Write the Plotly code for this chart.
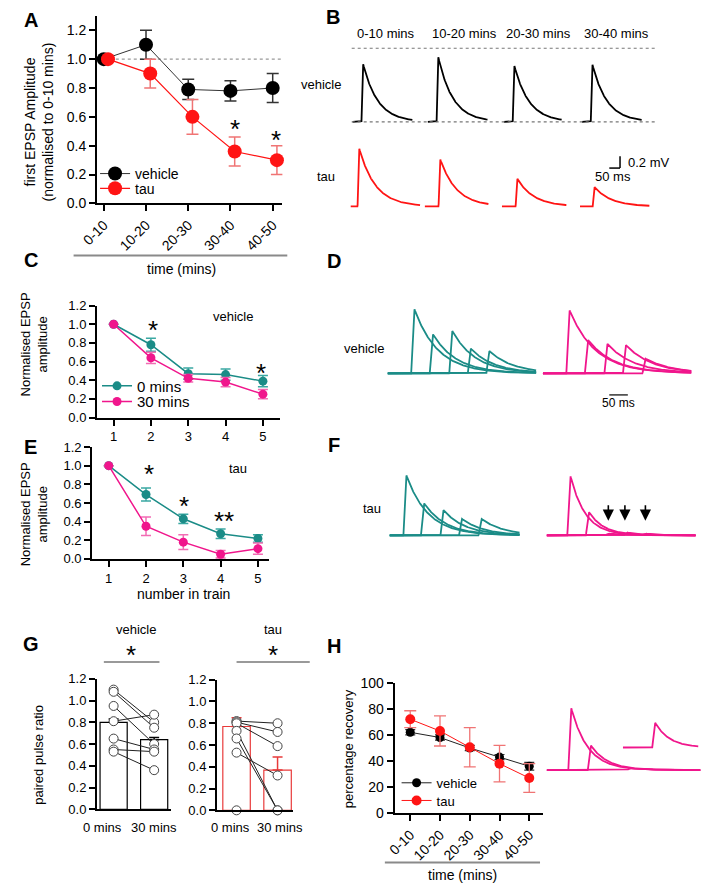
import numpy as np
import plotly.graph_objects as go

W, H = 702, 891
FONT = "Liberation Sans, Arial, Helvetica, sans-serif"
BLACK = "#000000"
RED = "#ff1414"
RED_ERR = "#f07474"
TEAL = "#1b8c87"
TEAL_ERR = "#3aa8a2"
PINK = "#f0168c"
PINK_ERR = "#f26cb4"

# ---------------- data ----------------
time_bins = ["0-10", "10-20", "20-30", "30-40", "40-50"]

# A: first EPSP amplitude (normalised)
a_vehicle = [1.00, 1.10, 0.79, 0.78, 0.80]
a_vehicle_err = [0.0, 0.10, 0.07, 0.07, 0.10]
a_tau = [1.00, 0.90, 0.60, 0.36, 0.30]
a_tau_err = [0.0, 0.10, 0.12, 0.10, 0.10]

# C / E: normalised EPSP amplitude along the train
train_pos = [1, 2, 3, 4, 5]
c_0min = [1.00, 0.78, 0.47, 0.46, 0.39]
c_0min_err = [0.0, 0.07, 0.06, 0.06, 0.06]
c_30min = [1.00, 0.64, 0.42, 0.38, 0.25]
c_30min_err = [0.0, 0.06, 0.04, 0.05, 0.05]

e_0min = [1.00, 0.69, 0.43, 0.27, 0.22]
e_0min_err = [0.0, 0.07, 0.05, 0.05, 0.04]
e_30min = [1.00, 0.35, 0.18, 0.05, 0.11]
e_30min_err = [0.0, 0.10, 0.08, 0.04, 0.06]

# G: paired pulse ratio
g_groups = ["0 mins", "30 mins"]
g_veh_mean = [0.80, 0.64]
g_veh_err = [0.03, 0.02]
g_veh_0 = [1.10, 1.08, 0.95, 0.81, 0.65, 0.55, 0.53]
g_veh_30 = [0.80, 0.75, 0.60, 0.87, 0.55, 0.53, 0.36]
g_tau_mean = [0.77, 0.37]
g_tau_err = [0.08, 0.12]
g_tau_0 = [0.82, 0.81, 0.80, 0.73, 0.66, 0.53]
g_tau_30 = [0.80, 0.72, 0.59, 0.00, 0.00, 0.32]
g_tau_0_unpaired = [0.00]

# H: percentage recovery
h_vehicle = [62, 58, 50, 43, 36]
h_vehicle_err = [2, 2, 2, 2, 3]
h_tau = [72, 63, 50.5, 38, 27]
h_tau_err = [6.5, 11.5, 15, 14, 11]

# Example traces: peak amplitudes (mV)
b_columns = ["0-10 mins", "10-20 mins", "20-30 mins", "30-40 mins"]
b_vehicle_amp = [0.98, 1.10, 0.95, 0.97]
b_tau_amp = [0.98, 0.80, 0.47, 0.33]
d_veh_0_amp = [1.10, 0.67, 0.72, 0.42, 0.38]
d_veh_30_amp = [1.08, 0.57, 0.50, 0.48, 0.25]
f_tau_0_amp = [1.02, 0.55, 0.43, 0.28, 0.28]
f_tau_30_amp = [1.02, 0.40, 0.03, 0.05, 0.03]
h_inset_amp = [1.05, 0.42, 0.03]
h_inset_test_amp = [0.42]

# ---------------- helpers ----------------
def px(x):
    return x / W

def py(y):
    return 1 - y / H

def xdom(a, b):
    return [a / W, b / W]

def ydom(top, bottom):
    return [1 - bottom / H, 1 - top / H]

annotations = []
shapes = []

def text(x, y, s, size=13, bold=False, xanchor="center", angle=0, color=BLACK):
    annotations.append(dict(
        x=px(x), y=py(y), xref="paper", yref="paper",
        text=f"<b>{s}</b>" if bold else s, showarrow=False,
        font=dict(family=FONT, size=size, color=color),
        xanchor=xanchor, yanchor="middle", textangle=angle))

def star(x, y, s):
    annotations.append(dict(
        x=px(x), y=py(y + 6), xref="paper", yref="paper", text=s,
        showarrow=False, font=dict(family=FONT, size=26, color=BLACK),
        xanchor="center", yanchor="middle"))

def hline(x0, x1, y, color=BLACK, width=1.5, dash="solid"):
    shapes.append(dict(type="line", xref="paper", yref="paper",
                       x0=px(x0), x1=px(x1), y0=py(y), y1=py(y),
                       line=dict(color=color, width=width, dash=dash)))

def vline(x, y0, y1, color=BLACK, width=1.5):
    shapes.append(dict(type="line", xref="paper", yref="paper",
                       x0=px(x), x1=px(x), y0=py(y0), y1=py(y1),
                       line=dict(color=color, width=width)))

def errs(e):
    return [v if v > 0 else None for v in e]

def axis_style(**kw):
    d = dict(showline=True, linecolor=BLACK, linewidth=2, ticks="outside",
             ticklen=6, tickwidth=2, tickcolor=BLACK, showgrid=False,
             zeroline=False, tickfont=dict(family=FONT, size=13, color=BLACK),
             fixedrange=True)
    d.update(kw)
    return d

def legend_at(x, y, size):
    return dict(x=px(x), y=py(y), xanchor="left", yanchor="middle",
                bgcolor="rgba(0,0,0,0)", borderwidth=0,
                font=dict(family=FONT, size=size, color=BLACK), tracegroupgap=0)

class Box:
    def __init__(self, x0, x1, top, bottom, sx, sy):
        self.x0, self.x1, self.top, self.bottom = x0, x1, top, bottom
        self.sx, self.sy = sx, sy

    def ms(self, p):
        return (p - self.x0) / self.sx

    def mv(self, p):
        return (self.bottom - p) / self.sy

    def xr(self):
        return [0, (self.x1 - self.x0) / self.sx]

    def yr(self):
        return [0, (self.bottom - self.top) / self.sy]

def epsp(t0, ton, t1, amp, tau, base, rise=8.0, dt=1.0):
    t = np.arange(t0, t1 + dt, dt)
    v = np.zeros_like(t)
    r = (t >= ton) & (t < ton + rise)
    v[r] = amp * (t[r] - ton) / rise
    d = t >= ton + rise
    v[d] = amp * np.exp(-(t[d] - ton - rise) / tau)
    return t, v + base

fig = go.Figure()

def trace_group(box, starts, onsets, ends, amps, tau, base_py, color, xa, ya, width=1.6):
    xs, ys = [], []
    for s, o, e, a in zip(starts, onsets, ends, amps):
        t, v = epsp(box.ms(s), box.ms(o), box.ms(e), a, tau, box.mv(base_py))
        xs += list(t) + [None]
        ys += list(v) + [None]
    fig.add_trace(go.Scatter(x=xs, y=ys, mode="lines", line=dict(color=color, width=width),
                             xaxis=xa, yaxis=ya, showlegend=False, hoverinfo="skip"))

# ---------------- Panel A ----------------
xi = np.arange(len(time_bins))
fig.add_trace(go.Scatter(
    x=xi, y=a_vehicle, mode="lines+markers", name="vehicle",
    marker=dict(color=BLACK, size=14), line=dict(color="#333333", width=1),
    error_y=dict(type="data", array=errs(a_vehicle_err), color="#333333", thickness=1.5, width=6),
    xaxis="x", yaxis="y", legend="legend", cliponaxis=False))
fig.add_trace(go.Scatter(
    x=xi + 0.1, y=a_tau, mode="lines+markers", name="tau",
    marker=dict(color=RED, size=14), line=dict(color=RED, width=1.2),
    error_y=dict(type="data", array=errs(a_tau_err), color=RED_ERR, thickness=1.5, width=6),
    xaxis="x", yaxis="y", legend="legend2", cliponaxis=False))
shapes.append(dict(type="line", xref="x", yref="y", x0=0, x1=4.2, y0=1.0, y1=1.0,
                   line=dict(color="#999999", width=1.2, dash="dot"), layer="below"))

# ---------------- Panel C ----------------
fig.add_trace(go.Scatter(
    x=train_pos, y=c_0min, mode="lines+markers", name="0 mins",
    marker=dict(color=TEAL, size=9), line=dict(color=TEAL, width=1.5),
    error_y=dict(type="data", array=errs(c_0min_err), color=TEAL_ERR, thickness=1.5, width=5),
    xaxis="x2", yaxis="y2", legend="legend3", cliponaxis=False))
fig.add_trace(go.Scatter(
    x=train_pos, y=c_30min, mode="lines+markers", name="30 mins",
    marker=dict(color=PINK, size=9), line=dict(color=PINK, width=1.5),
    error_y=dict(type="data", array=errs(c_30min_err), color=PINK_ERR, thickness=1.5, width=5),
    xaxis="x2", yaxis="y2", legend="legend4", cliponaxis=False))

# ---------------- Panel E ----------------
fig.add_trace(go.Scatter(
    x=train_pos, y=e_0min, mode="lines+markers", name="0 mins", showlegend=False,
    marker=dict(color=TEAL, size=9), line=dict(color=TEAL, width=1.5),
    error_y=dict(type="data", array=errs(e_0min_err), color=TEAL_ERR, thickness=1.5, width=5),
    xaxis="x3", yaxis="y3", cliponaxis=False))
fig.add_trace(go.Scatter(
    x=train_pos, y=e_30min, mode="lines+markers", name="30 mins", showlegend=False,
    marker=dict(color=PINK, size=9), line=dict(color=PINK, width=1.5),
    error_y=dict(type="data", array=errs(e_30min_err), color=PINK_ERR, thickness=1.5, width=5),
    xaxis="x3", yaxis="y3", cliponaxis=False))

# ---------------- Panel G ----------------
def paired(x_ax, y_ax, means, err, before, after, edge, extra=None):
    fig.add_trace(go.Bar(
        x=[0, 1], y=means, width=0.67, showlegend=False,
        marker=dict(color="white", line=dict(color=edge, width=1.2)),
        error_y=dict(type="data", symmetric=False, array=err, arrayminus=[0, 0],
                     color=edge, thickness=1.5, width=5),
        xaxis=x_ax, yaxis=y_ax, hoverinfo="skip"))
    lx, ly = [], []
    for a, b in zip(before, after):
        lx += [0, 1, None]
        ly += [a, b, None]
    fig.add_trace(go.Scatter(x=lx, y=ly, mode="lines", line=dict(color="#222222", width=1),
                             xaxis=x_ax, yaxis=y_ax, showlegend=False, hoverinfo="skip",
                             cliponaxis=False))
    cx = [0] * len(before) + [1] * len(after)
    cy = list(before) + list(after)
    if extra:
        cx += [0] * len(extra)
        cy += list(extra)
    fig.add_trace(go.Scatter(x=cx, y=cy, mode="markers",
                             marker=dict(color="white", size=9, line=dict(color="#444444", width=1)),
                             xaxis=x_ax, yaxis=y_ax, showlegend=False, cliponaxis=False))

paired("x4", "y4", g_veh_mean, g_veh_err, g_veh_0, g_veh_30, BLACK)
paired("x5", "y5", g_tau_mean, g_tau_err, g_tau_0, g_tau_30, "#e83a3a", g_tau_0_unpaired)

# ---------------- Panel H ----------------
fig.add_trace(go.Scatter(
    x=xi, y=h_vehicle, mode="lines+markers", name="vehicle",
    marker=dict(color=BLACK, size=9), line=dict(color="#222222", width=1),
    error_y=dict(type="data", array=h_vehicle_err, color="#333333", thickness=1.2, width=5),
    xaxis="x6", yaxis="y6", legend="legend5", cliponaxis=False))
fig.add_trace(go.Scatter(
    x=xi, y=h_tau, mode="lines+markers", name="tau",
    marker=dict(color=RED, size=10), line=dict(color=RED, width=1),
    error_y=dict(type="data", array=h_tau_err, color=RED_ERR, thickness=1.3, width=6),
    xaxis="x6", yaxis="y6", legend="legend6", cliponaxis=False))

# ---------------- Example traces ----------------
boxB = Box(330, 702, 30, 215, 0.22, 60.0)
trace_group(boxB, [344, 421, 499, 579], [353, 430, 508, 588], [405, 482, 558, 640],
            b_vehicle_amp, 68, 116, BLACK, "x7", "y7", 1.8)
trace_group(boxB, [342, 418, 497, 577], [349, 432, 511, 590], [413, 483, 563, 648],
            b_tau_amp, 75, 202, RED, "x7", "y7", 1.8)

boxD = Box(370, 702, 290, 560, 0.38, 60.0)
trace_group(boxD, [380] * 5, [404, 423, 443, 462, 481], [532] * 5,
            d_veh_0_amp, 63, 372, TEAL, "x8", "y8", 1.8)
trace_group(boxD, [539] * 5, [563, 582, 602, 621, 641], [691] * 5,
            d_veh_30_amp, 70, 372, PINK, "x8", "y8", 1.8)
trace_group(boxD, [382] * 5, [396, 414, 434, 453, 473], [515] * 5,
            f_tau_0_amp, 58, 537, TEAL, "x8", "y8", 1.8)
trace_group(boxD, [543] * 5, [564, 583, 603, 622, 641], [695] * 5,
            f_tau_30_amp, 40, 537, PINK, "x8", "y8", 1.8)

boxH = Box(540, 702, 700, 790, 0.38, 60.0)
trace_group(boxH, [543] * 3, [565, 585, 625], [700] * 3, h_inset_amp, 45, 776, PINK, "x9", "y9", 1.8)
trace_group(boxH, [621], [651], [698], h_inset_test_amp, 38, 753, PINK, "x9", "y9", 1.8)

# ---------------- text & decorations ----------------
for lab, (x, y) in zip("ABCDEFGH", [(14, 12), (324, 9), (14, 257), (325, 258),
                                     (14, 447), (325, 445), (14, 648), (325, 650)]):
    text(x, y, lab, size=20, bold=True)

# A
text(22, 116, "first EPSP Amplitude<br>(normalised to 0-10 mins)", size=14, angle=-90)
hline(58, 277, 252, color="#8a8a8a", width=2)
text(169, 266, "time (mins)", size=14)
star(223, 117, "*")
star(265, 128, "*")

# B
for s, x in zip(b_columns, [378, 459, 534, 614]):
    text(x, 26, s, size=13)
text(312, 78, "vehicle", size=13)
text(317, 172, "tau", size=13)
hline(343, 654, 41, color="#777777", width=1.2, dash="dot")
hline(343, 654, 116, color="#777777", width=1.2, dash="dot")
vline(618, 151, 163, width=1.5)
hline(607, 618, 163, width=1.5)
text(624, 157, "0.2 mV", size=13, xanchor="left")
text(611, 172, "50 ms", size=13)

# C
text(17, 343, "Normalised EPSP<br>amplitude", size=13, angle=-90)
text(221, 314, "vehicle", size=13)
star(139, 322, "*")
star(250, 366, "*")

# D
text(356, 347, "vehicle", size=13)
hline(607, 626, 394, width=1.2)
text(616, 402, "50 ms", size=12)

# E
text(17, 516, "Normalised EPSP<br>amplitude", size=13, angle=-90)
text(226, 469, "tau", size=13)
star(135, 469, "*")
star(171, 501, "*")
star(212, 516, "**")
text(171, 597, "number in train", size=14)

# F
text(364, 510, "tau", size=13)
for ax_x in [606, 623, 644]:
    annotations.append(dict(x=px(ax_x), y=py(522), xref="paper", yref="paper",
                            ax=0, ay=-17, showarrow=True, arrowhead=2, arrowsize=1.4,
                            arrowwidth=1.6, arrowcolor=BLACK, text=""))

# G
text(22, 760, "paired pulse ratio", size=13, angle=-90)
text(122, 633, "vehicle", size=13)
star(117, 653, "*")
hline(89, 146, 666, color="#777777", width=1.5)
text(262, 633, "tau", size=13)
star(262, 653, "*")
hline(225, 300, 666, color="#777777", width=1.5)
for s, x in zip(g_groups, [88, 140]):
    text(x, 834, s, size=13)
for s, x in zip(g_groups, [219, 270]):
    text(x, 834, s, size=13)

# H
text(340, 754, "percentage recovery", size=13, angle=-90)
hline(377, 536, 870, color="#8a8a8a", width=2)
text(457, 883, "time (mins)", size=14)

# ---------------- layout ----------------
yt = [0, 0.2, 0.4, 0.6, 0.8, 1.0, 1.2]
big = dict(family=FONT, size=14, color=BLACK)
layout = dict(
    width=W, height=H, margin=dict(l=0, r=0, t=0, b=0), autosize=False,
    paper_bgcolor="white", plot_bgcolor="white",
    font=dict(family=FONT, size=13, color=BLACK),
    annotations=annotations, shapes=shapes, showlegend=True, hovermode=False,
    xaxis=axis_style(domain=xdom(82, 272), range=[-0.16, 4.23], tickvals=list(xi),
                     ticktext=time_bins, tickangle=-45, anchor="y", tickfont=big),
    yaxis=axis_style(domain=ydom(8, 199), range=[0, 1.30], tickvals=yt, tickformat=".1f",
                     anchor="x", tickfont=big),
    xaxis2=axis_style(domain=xdom(82, 270), range=[0.556, 5.47], tickvals=train_pos, anchor="y2"),
    yaxis2=axis_style(domain=ydom(303, 417), range=[0, 1.2], tickvals=yt, tickformat=".1f", anchor="x2"),
    xaxis3=axis_style(domain=xdom(77, 258), range=[0.556, 5.29], tickvals=train_pos, anchor="y3"),
    yaxis3=axis_style(domain=ydom(447, 561), range=[0, 1.2], tickvals=yt, tickformat=".1f", anchor="x3"),
    xaxis4=axis_style(domain=xdom(82, 158), range=[-0.41, 1.42], ticks="", showticklabels=False, anchor="y4"),
    yaxis4=axis_style(domain=ydom(683, 816), range=[0, 1.2], tickvals=yt, tickformat=".1f", anchor="x4"),
    xaxis5=axis_style(domain=xdom(205, 283), range=[-0.476, 1.38], ticks="", showticklabels=False, anchor="y5"),
    yaxis5=axis_style(domain=ydom(684, 817), range=[0, 1.2], tickvals=yt, tickformat=".1f", anchor="x5"),
    xaxis6=axis_style(domain=xdom(387, 539), range=[-0.525, 4.46], tickvals=list(xi),
                      ticktext=time_bins, tickangle=-45, anchor="y6", tickfont=big),
    yaxis6=axis_style(domain=ydom(687, 820), range=[0, 100], tickvals=[0, 20, 40, 60, 80, 100],
                      anchor="x6", tickfont=big),
    xaxis7=dict(domain=xdom(boxB.x0, boxB.x1), range=boxB.xr(), visible=False, anchor="y7", fixedrange=True),
    yaxis7=dict(domain=ydom(boxB.top, boxB.bottom), range=boxB.yr(), visible=False, anchor="x7", fixedrange=True),
    xaxis8=dict(domain=xdom(boxD.x0, boxD.x1), range=boxD.xr(), visible=False, anchor="y8", fixedrange=True),
    yaxis8=dict(domain=ydom(boxD.top, boxD.bottom), range=boxD.yr(), visible=False, anchor="x8", fixedrange=True),
    xaxis9=dict(domain=xdom(boxH.x0, boxH.x1), range=boxH.xr(), visible=False, anchor="y9", fixedrange=True),
    yaxis9=dict(domain=ydom(boxH.top, boxH.bottom), range=boxH.yr(), visible=False, anchor="x9", fixedrange=True),
    legend=legend_at(80, 169, 14),
    legend2=legend_at(80, 184, 14),
    legend3=legend_at(82, 385, 15),
    legend4=legend_at(82, 401, 15),
    legend5=legend_at(389, 789, 13),
    legend6=legend_at(389, 807, 13),
)
fig.update_layout(**layout)
fig.write_html("out.html", config={"displayModeBar": False, "staticPlot": False},
               post_script="document.body.style.margin='0px';")
